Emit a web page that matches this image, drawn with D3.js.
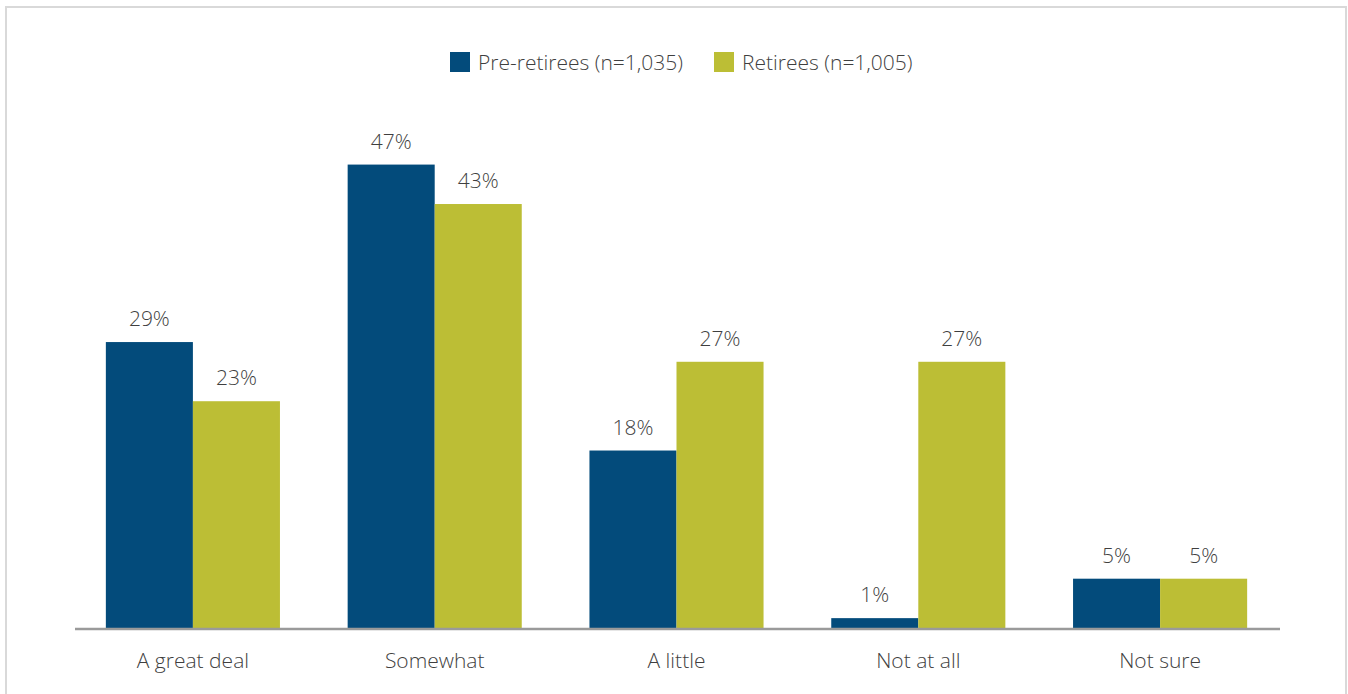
<!DOCTYPE html>
<html>
<head>
<meta charset="utf-8">
<script src="https://cdn.jsdelivr.net/npm/d3@7"></script>
<style>
  html, body { margin: 0; padding: 0; background: #fff; }
  svg text { font-family: "Open Sans", "Noto Sans", sans-serif; font-weight: 300; fill: #3f3f3f; }
</style>
</head>
<body>
<svg id="chart" width="1348" height="694"></svg>
<script>
// Survey responses by group (percent)
const categories = ["A great deal", "Somewhat", "A little", "Not at all", "Not sure"];
const seriesNames = ["Pre-retirees (n=1,035)", "Retirees (n=1,005)"];
const preRetirees = [29, 47, 18, 1, 5];
const retirees = [23, 43, 27, 27, 5];
const seriesColors = ["#034b7b", "#bcbe35"];

const svg = d3.select("#chart");
const W = 1348, H = 694;

// light frame around the figure
svg.append("rect")
  .attr("x", 6).attr("y", 7)
  .attr("width", W - 8).attr("height", H + 10)
  .attr("fill", "none").attr("stroke", "#d9d9d9").attr("stroke-width", 2);

const baseline = 628;
const y = d3.scaleLinear().domain([0, 50]).range([baseline, baseline - 50 * 9.86]);

const x0 = d3.scaleBand().domain(categories).range([72, 1281])
  .paddingInner(0.28).paddingOuter(0.14);
const x1 = d3.scaleBand().domain([0, 1]).range([0, x0.bandwidth()]);

const rows = categories.map((c, i) => ({ cat: c, vals: [preRetirees[i], retirees[i]] }));

const groups = svg.append("g").selectAll("g").data(rows).join("g")
  .attr("transform", d => `translate(${x0(d.cat)},0)`);

groups.selectAll("rect").data(d => d.vals.map((v, s) => ({ v, s }))).join("rect")
  .attr("x", d => x1(d.s))
  .attr("width", x1.bandwidth())
  .attr("y", d => y(d.v))
  .attr("height", d => baseline - y(d.v))
  .attr("fill", d => seriesColors[d.s]);

groups.selectAll("text.val").data(d => d.vals.map((v, s) => ({ v, s }))).join("text")
  .attr("class", "val")
  .attr("x", d => x1(d.s) + x1.bandwidth() / 2)
  .attr("y", d => y(d.v) - 16)
  .attr("text-anchor", "middle")
  .attr("font-size", 21)
  .text(d => d.v + "%");

// baseline axis
svg.append("line")
  .attr("x1", 75).attr("x2", 1280)
  .attr("y1", baseline + 1).attr("y2", baseline + 1)
  .attr("stroke", "#9a9a9a").attr("stroke-width", 2.5);

// category labels
const xAxis = d3.axisBottom(x0).tickSize(0).tickPadding(0);
const axisG = svg.append("g").attr("transform", `translate(0,${baseline + 25})`).call(xAxis);
axisG.select(".domain").remove();
axisG.selectAll("text")
  .attr("font-size", 21)
  .attr("dy", "0.71em")
  .style("font-family", '"Open Sans", "Noto Sans", sans-serif')
  .style("font-weight", 300)
  .style("fill", "#3f3f3f");

// legend
const legendItems = [{ x: 450, name: seriesNames[0], c: seriesColors[0] },
                     { x: 714, name: seriesNames[1], c: seriesColors[1] }];
const lg = svg.append("g").selectAll("g").data(legendItems).join("g")
  .attr("transform", d => `translate(${d.x},52)`);
lg.append("rect").attr("width", 20).attr("height", 20).attr("fill", d => d.c);
lg.append("text").attr("x", 28).attr("y", 18).attr("font-size", 21).text(d => d.name);
</script>
</body>
</html>
